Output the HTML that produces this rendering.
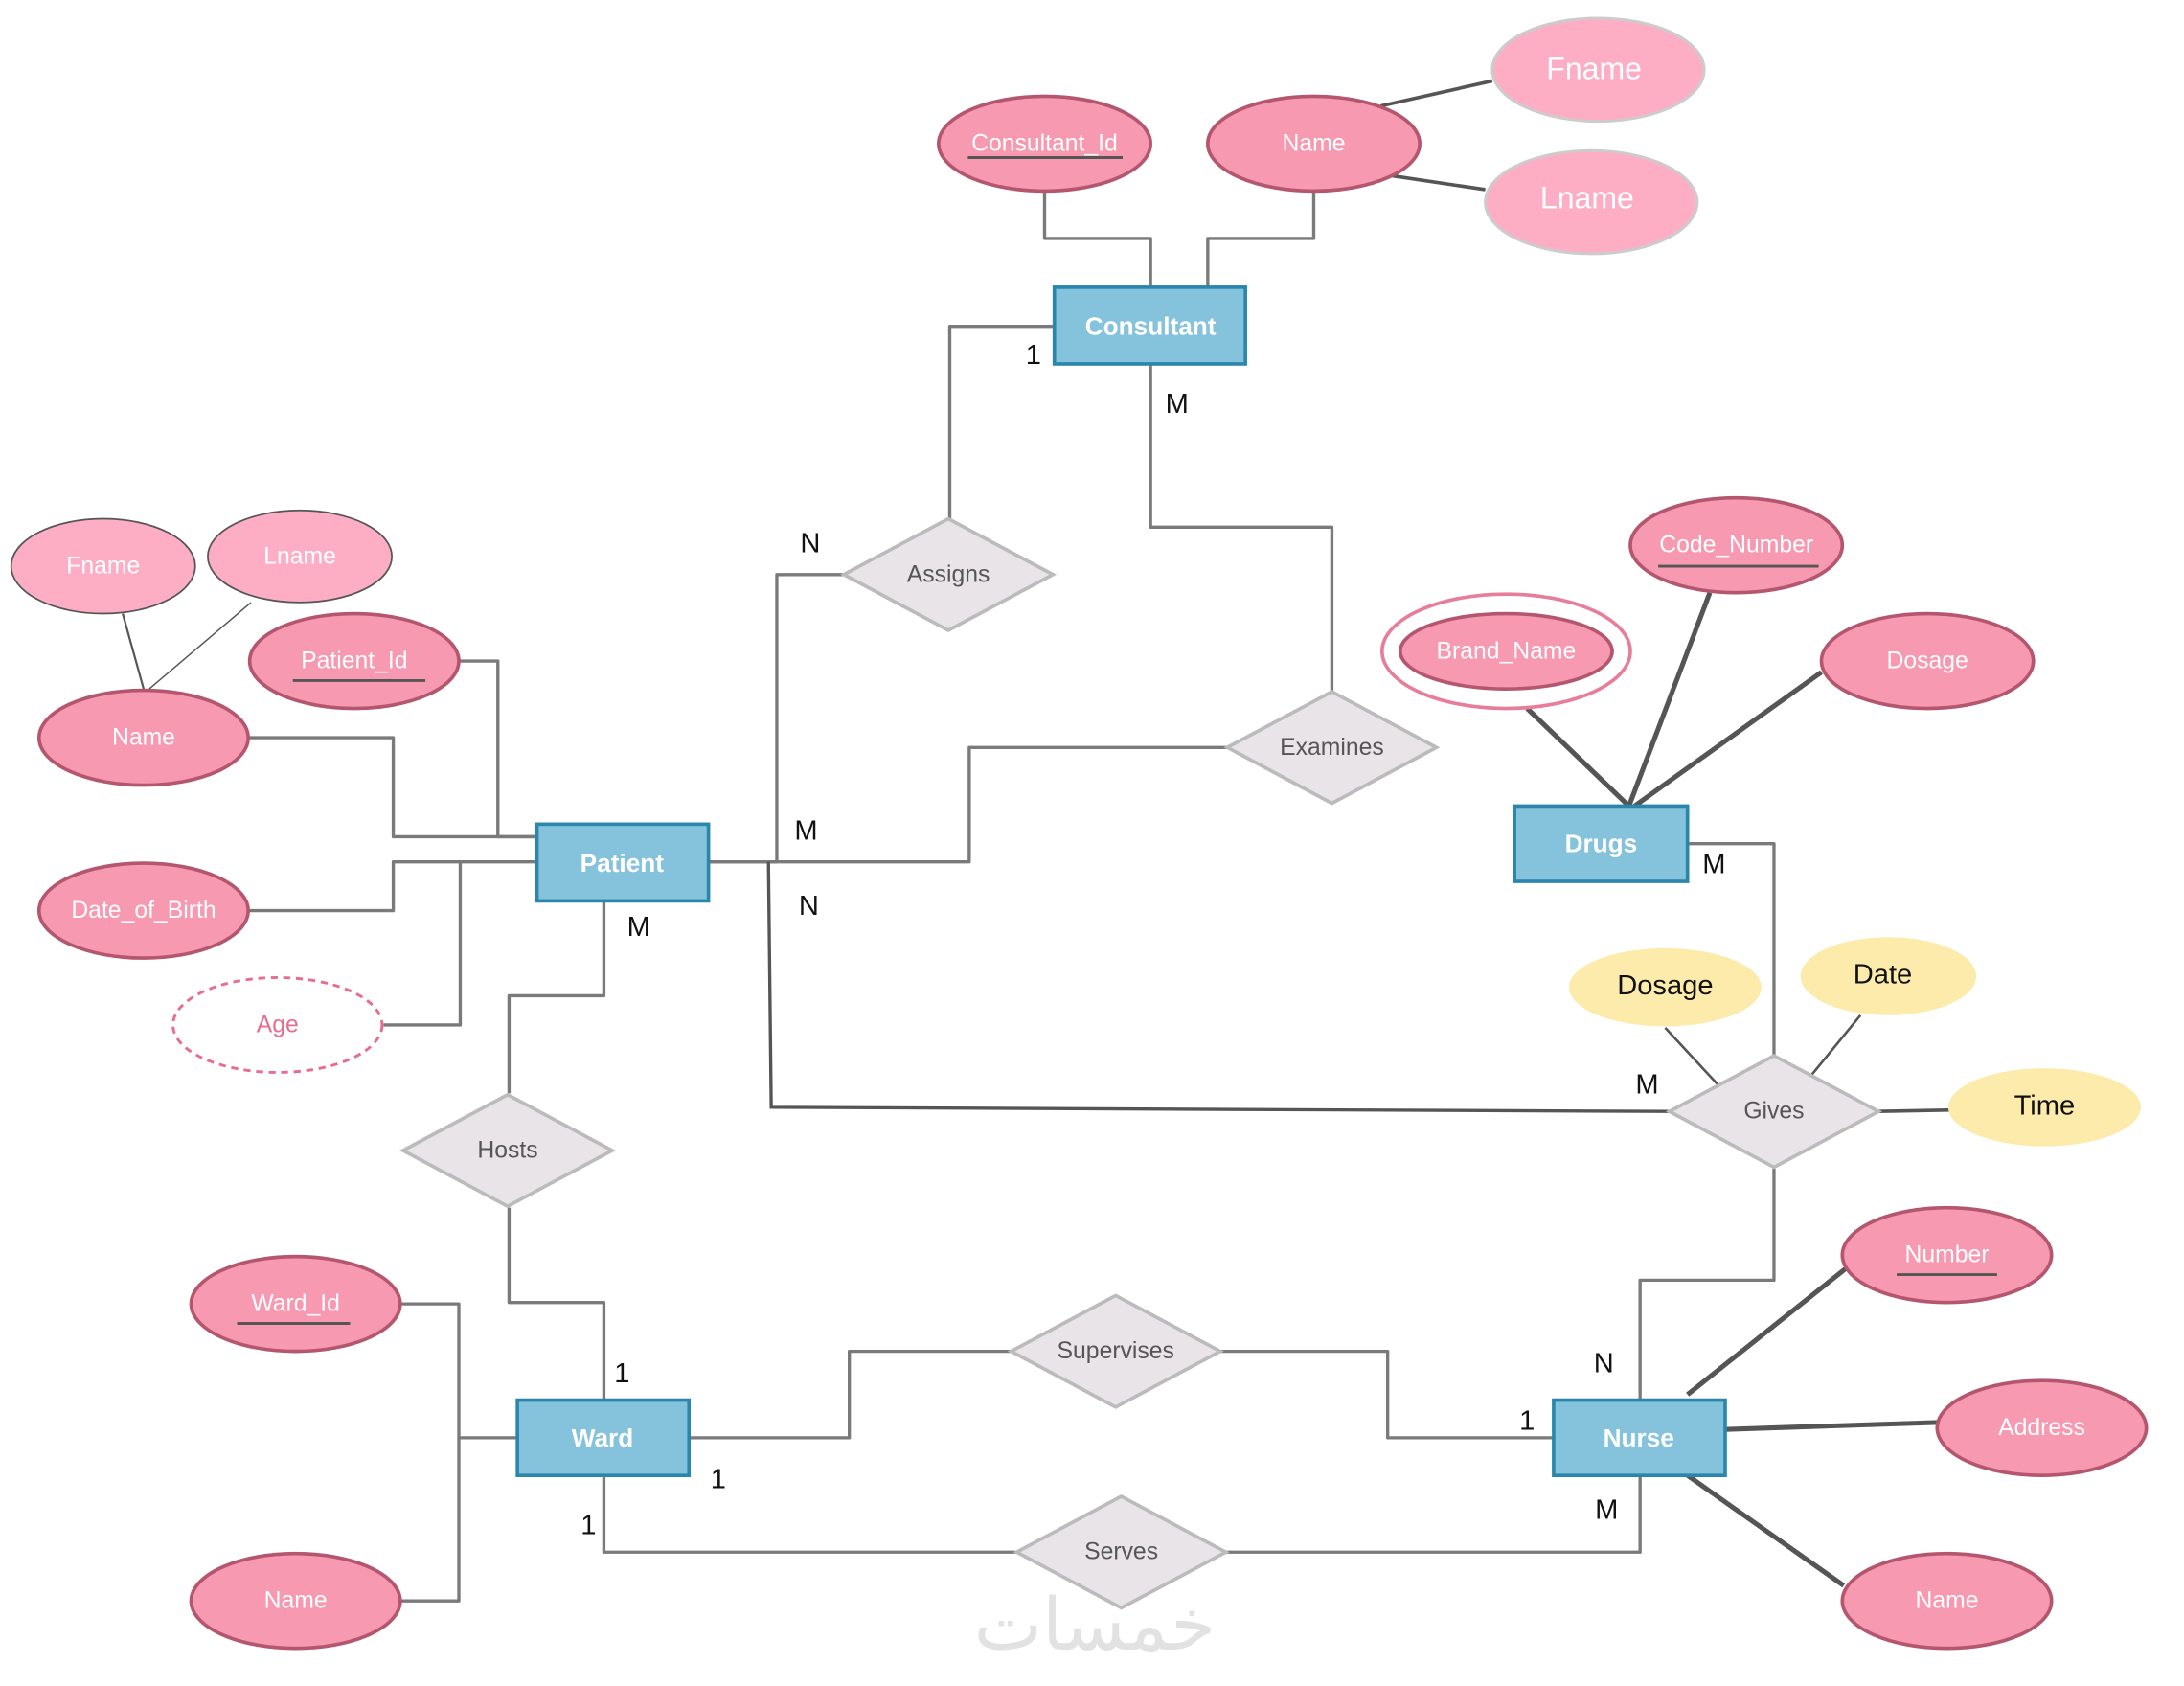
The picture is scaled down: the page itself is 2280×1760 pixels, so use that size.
<!DOCTYPE html>
<html><head><meta charset="utf-8"><style>
html,body{margin:0;padding:0;background:#fff;width:2280px;height:1760px;overflow:hidden}
svg{display:block}
text{font-family:"Liberation Sans","Noto Sans CJK SC",sans-serif;text-anchor:middle;dominant-baseline:central}
.at{fill:#f799b0;stroke:#b5566f;stroke-width:2.5}
.lt{fill:#fdaec5;stroke:#555;stroke-width:1.2}
.lt2{fill:#fdaec5;stroke:#ccc;stroke-width:2}
.yl{fill:#fcebaa}
.ent{fill:#85c2dc;stroke:#2b86ac;stroke-width:2.5}
.rel{fill:#e8e4e7;stroke:#bbb;stroke-width:2.5}
.c{fill:none;stroke:#7a7a7a;stroke-width:2.3;stroke-linejoin:round}
.k{fill:none;stroke:#555;stroke-width:3.5}
.w{fill:#fff;font-size:17px}
.e{fill:#fff;font-size:18px;font-weight:bold}
.r{fill:#555;font-size:17px}
.b{fill:#111;font-size:20px}
.y{fill:#111;font-size:20px}
</style></head><body>
<svg width="2280" height="1760" viewBox="0 0 1566 1209" preserveAspectRatio="none" xmlns="http://www.w3.org/2000/svg">
<!-- connectors -->
<polyline class="c" points="749,137 749,171 825,171 825,206"/>
<polyline class="c" points="942,137 942,171 866,171 866,206"/>
<line x1="990" y1="76" x2="1070" y2="58" stroke="#555" stroke-width="2.5"/>
<line x1="998" y1="126" x2="1065" y2="136" stroke="#555" stroke-width="2.5"/>
<polyline class="c" points="756,234 681,234 681,372"/>
<polyline class="c" points="605,412 557,412 557,618 508,618"/>
<polyline class="c" points="825,261 825,378 955,378 955,496"/>
<polyline class="c" points="880,536 695,536 695,618 508,618"/>
<polyline class="c" points="330,474 357,474 357,600 385,600"/>
<polyline class="c" points="178,529 282,529 282,600 385,600"/>
<line x1="88" y1="440" x2="103" y2="494" stroke="#555" stroke-width="1.5"/>
<line x1="180" y1="432" x2="107" y2="494" stroke="#555" stroke-width="1"/>
<polyline class="c" points="178,653 282,653 282,618 385,618"/>
<polyline class="c" points="275,735 330,735 330,618"/>
<polyline class="c" points="433,646 433,714 365,714 365,784"/>
<polyline class="c" points="365,866 365,934 433,934 433,1004"/>
<polyline fill="none" stroke="#555" stroke-width="2.3" points="551,618 553,794 1197,797"/>
<polyline class="c" points="1210,605 1272,605 1272,757"/>
<polyline class="c" points="1272,838 1272,918 1176,918 1176,1004"/>
<line x1="1194" y1="737" x2="1232" y2="778" stroke="#555" stroke-width="1.8"/>
<line x1="1334" y1="728" x2="1298" y2="772" stroke="#555" stroke-width="1.8"/>
<line x1="1346" y1="797" x2="1398" y2="796" stroke="#555" stroke-width="2.5"/>
<line class="k" x1="1095" y1="508" x2="1168" y2="578"/>
<line class="k" x1="1226" y1="425" x2="1168" y2="578"/>
<line class="k" x1="1306" y1="482" x2="1172" y2="578"/>
<polyline class="c" points="288,935 329,935 329,1031 371,1031"/>
<polyline class="c" points="288,1148 329,1148 329,1031"/>
<polyline class="c" points="494,1031 609,1031 609,969 725,969"/>
<polyline class="c" points="875,969 995,969 995,1031 1114,1031"/>
<polyline class="c" points="433,1058 433,1113 729,1113"/>
<polyline class="c" points="879,1113 1176,1113 1176,1058"/>
<line class="k" x1="1210" y1="1000" x2="1323" y2="910"/>
<line class="k" x1="1237" y1="1025" x2="1390" y2="1020"/>
<line class="k" x1="1210" y1="1058" x2="1322" y2="1137"/>
<!-- watermark -->
<text x="785" y="1165" style="font-size:52px;fill:#e2e2e2;font-family:'DejaVu Sans',sans-serif">خمسات</text>
<!-- consultant attrs -->
<ellipse class="at" cx="749" cy="103" rx="76" ry="34"/><text class="w" x="749" y="103">Consultant_Id</text><line x1="694" y1="113" x2="805" y2="113" stroke="#555" stroke-width="2"/>
<ellipse class="at" cx="942" cy="103" rx="76" ry="34"/><text class="w" x="942" y="103">Name</text>
<ellipse class="lt2" cx="1146" cy="50" rx="76" ry="37"/><text class="w" x="1143" y="49" style="font-size:22px">Fname</text>
<ellipse class="lt2" cx="1141" cy="145" rx="76" ry="37"/><text class="w" x="1138" y="142" style="font-size:22px">Lname</text>
<rect class="ent" x="756" y="206" width="137" height="55"/><text class="e" x="825" y="234">Consultant</text>
<!-- relationships -->
<polygon class="rel" points="605,412 680,372 755,412 680,452"/><text class="r" x="680" y="412">Assigns</text>
<polygon class="rel" points="880,536 955,496 1030,536 955,576"/><text class="r" x="955" y="536">Examines</text>
<polygon class="rel" points="289,825 364,785 439,825 364,865"/><text class="r" x="364" y="825">Hosts</text>
<polygon class="rel" points="1197,797 1272,757 1347,797 1272,837"/><text class="r" x="1272" y="797">Gives</text>
<polygon class="rel" points="725,969 800,929 875,969 800,1009"/><text class="r" x="800" y="969">Supervises</text>
<polygon class="rel" points="729,1113 804,1073 879,1113 804,1153"/><text class="r" x="804" y="1113">Serves</text>
<!-- patient attrs -->
<ellipse class="lt" cx="74" cy="406" rx="66" ry="34"/><text class="w" x="74" y="406">Fname</text>
<ellipse class="lt" cx="215" cy="399" rx="66" ry="33"/><text class="w" x="215" y="399">Lname</text>
<ellipse class="at" cx="254" cy="474" rx="75" ry="34"/><text class="w" x="254" y="474">Patient_Id</text><line x1="210" y1="488" x2="305" y2="488" stroke="#555" stroke-width="2"/>
<ellipse class="at" cx="103" cy="529" rx="75" ry="34"/><text class="w" x="103" y="529">Name</text>
<ellipse class="at" cx="103" cy="653" rx="75" ry="34"/><text class="w" x="103" y="653">Date_of_Birth</text>
<ellipse cx="199" cy="735" rx="75" ry="34" fill="#fff" stroke="#e86c8e" stroke-width="2" stroke-dasharray="5,4"/><text x="199" y="735" style="fill:#e86c8e;font-size:17px">Age</text>
<rect class="ent" x="385" y="591" width="123" height="55"/><text class="e" x="446" y="619">Patient</text>
<!-- drugs -->
<ellipse cx="1080" cy="467" rx="89" ry="41" fill="#fff" stroke="#e87d9a" stroke-width="2.5"/>
<ellipse class="at" cx="1080" cy="467" rx="76" ry="27"/><text class="w" x="1080" y="467">Brand_Name</text>
<ellipse class="at" cx="1245" cy="391" rx="76" ry="34"/><text class="w" x="1245" y="391">Code_Number</text><line x1="1189" y1="406" x2="1304" y2="406" stroke="#555" stroke-width="2"/>
<ellipse class="at" cx="1382" cy="474" rx="76" ry="34"/><text class="w" x="1382" y="474">Dosage</text>
<rect class="ent" x="1086" y="578" width="124" height="54"/><text class="e" x="1148" y="605">Drugs</text>
<ellipse class="yl" cx="1194" cy="708" rx="69" ry="28"/><text class="y" x="1194" y="707">Dosage</text>
<ellipse class="yl" cx="1354" cy="700" rx="63" ry="28"/><text class="y" x="1350" y="699">Date</text>
<ellipse class="yl" cx="1466" cy="794" rx="69" ry="28"/><text class="y" x="1466" y="793">Time</text>
<!-- ward -->
<ellipse class="at" cx="212" cy="935" rx="75" ry="34"/><text class="w" x="212" y="935">Ward_Id</text><line x1="170" y1="949" x2="251" y2="949" stroke="#555" stroke-width="2"/>
<ellipse class="at" cx="212" cy="1148" rx="75" ry="34"/><text class="w" x="212" y="1148">Name</text>
<rect class="ent" x="371" y="1004" width="123" height="54"/><text class="e" x="432" y="1031">Ward</text>
<!-- nurse -->
<ellipse class="at" cx="1396" cy="900" rx="75" ry="34"/><text class="w" x="1396" y="900">Number</text><line x1="1360" y1="914" x2="1432" y2="914" stroke="#555" stroke-width="2"/>
<ellipse class="at" cx="1464" cy="1024" rx="75" ry="34"/><text class="w" x="1464" y="1024">Address</text>
<ellipse class="at" cx="1396" cy="1148" rx="75" ry="34"/><text class="w" x="1396" y="1148">Name</text>
<rect class="ent" x="1114" y="1004" width="123" height="54"/><text class="e" x="1175" y="1031">Nurse</text>
<!-- cardinalities -->
<text class="b" x="741" y="255">1</text>
<text class="b" x="844" y="290">M</text>
<text class="b" x="581" y="390">N</text>
<text class="b" x="578" y="596">M</text>
<text class="b" x="580" y="650">N</text>
<text class="b" x="458" y="665">M</text>
<text class="b" x="1229" y="620">M</text>
<text class="b" x="1181" y="778">M</text>
<text class="b" x="446" y="985">1</text>
<text class="b" x="515" y="1061">1</text>
<text class="b" x="422" y="1094">1</text>
<text class="b" x="1150" y="978">N</text>
<text class="b" x="1095" y="1019">1</text>
<text class="b" x="1152" y="1083">M</text>
</svg>
</body></html>
